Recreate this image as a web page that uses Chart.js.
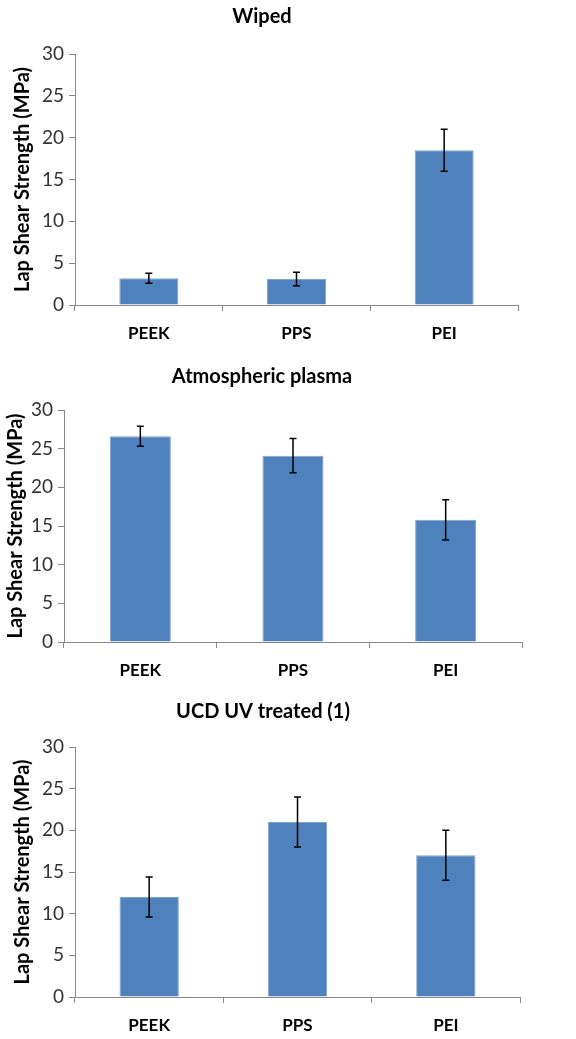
<!DOCTYPE html>
<html>
<head>
<meta charset="utf-8">
<script src="https://cdn.jsdelivr.net/npm/chart.js@4"></script>
<style>
  body { margin: 0; background: #fff; }
  .wrap { position: absolute; left: 0; width: 576px; }
</style>
</head>
<body>
<div class="wrap" style="top:0;height:345px"><canvas class="js-c0"></canvas></div>
<div class="wrap" style="top:345px;height:345px"><canvas class="js-c1"></canvas></div>
<div class="wrap" style="top:690px;height:349px"><canvas class="js-c2"></canvas></div>
<script>
const categories = ["PEEK", "PPS", "PEI"];
const titles = ["Wiped", "Atmospheric plasma", "UCD UV treated (1)"];
const yTicks = [0, 5, 10, 15, 20, 25, 30];

const wipedValues = [3.2, 3.1, 18.5];
const wipedErrors = [0.6, 0.8, 2.5];
const plasmaValues = [26.6, 24.1, 15.8];
const plasmaErrors = [1.3, 2.2, 2.6];
const uvValues = [12.0, 21.0, 17.0];
const uvErrors = [2.4, 3.0, 3.0];

const FONT = "Lato, 'Open Sans', sans-serif";

// per panel layout: axis x, plot right, plot top/bottom, title centre, y title offset
const panels = [
  { values: wipedValues, errors: wipedErrors, left: 75, right: 518, top: 54, bottom: 305, titleX: 262, titleY: 17, yTitlePad: 11, h: 345 },
  { values: plasmaValues, errors: plasmaErrors, left: 64, right: 522, top: 65, bottom: 297, titleX: 262, titleY: 32, yTitlePad: 4, h: 345 },
  { values: uvValues, errors: uvErrors, left: 75, right: 520, top: 57, bottom: 307, titleX: 263, titleY: 22, yTitlePad: 11, h: 349 },
];

const errorBars = {
  id: "errorBars",
  afterDatasetsDraw(chart, args, opts) {
    const ctx = chart.ctx;
    const yScale = chart.scales.y;
    const meta = chart.getDatasetMeta(0);
    const vals = chart.data.datasets[0].data;
    ctx.save();
    ctx.strokeStyle = "#000";
    ctx.lineWidth = 1.5;
    meta.data.forEach((bar, i) => {
      const e = opts.errors[i];
      const yHi = yScale.getPixelForValue(vals[i] + e);
      const yLo = yScale.getPixelForValue(vals[i] - e);
      ctx.beginPath();
      ctx.moveTo(bar.x, yHi);
      ctx.lineTo(bar.x, yLo);
      ctx.moveTo(bar.x - 3.5, yHi);
      ctx.lineTo(bar.x + 3.5, yHi);
      ctx.moveTo(bar.x - 3.5, yLo);
      ctx.lineTo(bar.x + 3.5, yLo);
      ctx.stroke();
    });
    ctx.restore();
  },
};

const panelTitle = {
  id: "panelTitle",
  afterDraw(chart, args, opts) {
    const ctx = chart.ctx;
    ctx.save();
    ctx.font = "bold 20px " + FONT;
    ctx.fillStyle = "#000";
    ctx.textAlign = "center";
    ctx.textBaseline = "middle";
    ctx.fillText(opts.text, opts.x, opts.y);
    ctx.restore();
  },
};

panels.forEach((p, k) => {
  const el = document.querySelector(".js-c" + k);
  el.graph = new Chart(el.getContext("2d"), {
    type: "bar",
    data: {
      labels: categories,
      datasets: [
        {
          data: p.values,
          backgroundColor: "#4F81BD",
          borderColor: "#7FA3D0",
          borderWidth: 1,
          categoryPercentage: 0.4,
          barPercentage: 1,
        },
      ],
    },
    plugins: [errorBars, panelTitle],
    options: {
      responsive: true,
      maintainAspectRatio: false,
      animation: false,
      layout: {
        padding: { left: 0, right: 576 - p.right, top: p.top, bottom: 0 },
      },
      plugins: {
        legend: { display: false },
        tooltip: { enabled: false },
        errorBars: { errors: p.errors },
        panelTitle: { text: titles[k], x: p.titleX, y: p.titleY },
      },
      scales: {
        x: {
          afterFit: (scale) => { scale.height = p.h - p.bottom; },
          border: { color: "#888", width: 1 },
          grid: { display: true, drawOnChartArea: false, color: "#888", tickLength: 6, offset: true },
          ticks: { color: "#000", padding: 12, font: { family: FONT, size: 17, weight: "bold" } },
        },
        y: {
          min: 0,
          max: 30,
          afterFit: (scale) => { scale.width = p.left; },
          afterBuildTicks: (scale) => { scale.ticks = yTicks.map((v) => ({ value: v })); },
          border: { color: "#888", width: 1 },
          grid: { display: true, drawOnChartArea: false, color: "#888", tickLength: 6 },
          ticks: { color: "#333", padding: 5, font: { family: FONT, size: 19 } },
          title: {
            display: true,
            text: "Lap Shear Strength (MPa)",
            color: "#000",
            padding: { top: p.yTitlePad, bottom: 0 },
            font: { family: FONT, size: 20, weight: "bold" },
          },
        },
      },
    },
  });
});
</script>
</body>
</html>
